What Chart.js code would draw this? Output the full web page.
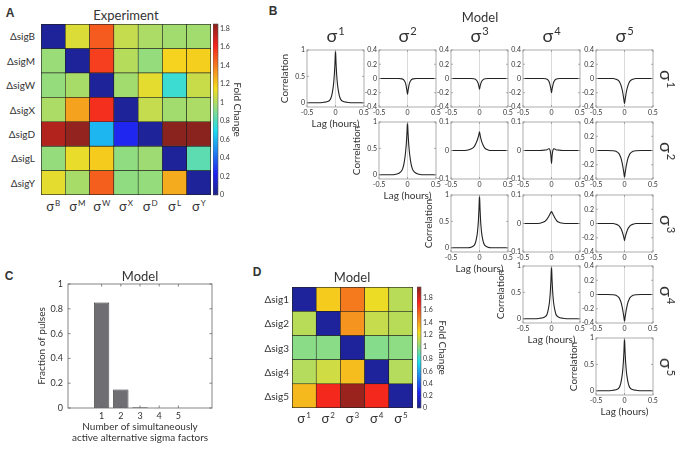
<!DOCTYPE html>
<html>
<head>
<meta charset="utf-8">
<script src="https://cdn.jsdelivr.net/npm/chart.js@4.4.1/dist/chart.umd.min.js"></script>
<style>
  body { margin: 0; background: #fff; }
  #fig { position: relative; width: 681px; height: 451px; overflow: hidden; font-family: Lato, sans-serif; color: #333; }
  #fig canvas { position: absolute; }
  .t { position: absolute; white-space: nowrap; line-height: 1; }
  .t sup { font-size: 62%; vertical-align: 0; position: relative; top: -0.6em; margin-left: 1px; }
  .lt { font-family: "Liberation Sans", Arial, sans-serif; font-weight: bold; }
</style>
</head>
<body>
<div id="fig"></div>
<script>
// ---- panel A: experiment fold change (rows = deletions, cols = sigma factors)
const A_ROWS = ['ΔsigB', 'ΔsigM', 'ΔsigW', 'ΔsigX', 'ΔsigD', 'ΔsigL', 'ΔsigY'];
const A_COLS = ['B', 'M', 'W', 'X', 'D', 'L', 'Y'];
const A_SIGB = [0.04, 1.10, 1.48, 1.05, 1.00, 0.98, 0.98];
const A_SIGM = [0.96, 0.04, 1.55, 1.02, 0.95, 1.18, 1.19];
const A_SIGW = [0.95, 0.99, 0.04, 0.98, 1.12, 0.76, 1.06];
const A_SIGX = [1.00, 1.30, 1.59, 0.04, 1.05, 0.98, 1.00];
const A_SIGD = [1.76, 1.83, 0.60, 0.24, 0.04, 1.85, 1.85];
const A_SIGL = [0.95, 1.13, 1.20, 0.94, 0.97, 0.04, 0.83];
const A_SIGY = [1.12, 0.99, 1.47, 0.94, 0.95, 1.28, 0.04];
const A_MAX = 1.85;

// ---- panel D: model fold change
const D_ROWS = ['Δsig1', 'Δsig2', 'Δsig3', 'Δsig4', 'Δsig5'];
const D_COLS = ['1', '2', '3', '4', '5'];
const D_SIG1 = [0.05, 1.28, 1.50, 1.22, 1.10];
const D_SIG2 = [1.10, 0.05, 1.43, 1.13, 1.10];
const D_SIG3 = [0.99, 0.99, 0.05, 0.98, 1.00];
const D_SIG4 = [1.09, 1.15, 1.32, 0.05, 1.09];
const D_SIG5 = [1.33, 1.72, 1.94, 1.72, 0.05];
const D_MAX = 1.98;

const CBAR_TICKS = [0, 0.2, 0.4, 0.6, 0.8, 1, 1.2, 1.4, 1.6, 1.8];

// ---- panel C: number of simultaneously active factors
const C_N = [1, 2, 3, 4, 5];
const C_FRACTION = [0.85, 0.15, 0.006, 0, 0];
const C_YTICKS = [0, 0.2, 0.4, 0.6, 0.8, 1];

// ---- panel B: cross-correlations vs lag (hours)
const LAG = [-0.5, -0.4, -0.3, -0.2, -0.15, -0.1, -0.08, -0.06, -0.04, -0.03, -0.02, -0.01, 0,
             0.01, 0.02, 0.03, 0.04, 0.06, 0.08, 0.1, 0.15, 0.2, 0.3, 0.4, 0.5];
const CORR_11 = [0, 0, 0, 0.01, 0.02, 0.05, 0.09, 0.17, 0.3, 0.4, 0.54, 0.74, 1, 0.74, 0.54, 0.4, 0.3, 0.17, 0.09, 0.05, 0.02, 0.01, 0, 0, 0];
const CORR_22 = [0, 0, 0, 0.01, 0.03, 0.08, 0.13, 0.22, 0.37, 0.47, 0.6, 0.78, 1, 0.78, 0.6, 0.47, 0.37, 0.22, 0.13, 0.08, 0.03, 0.01, 0, 0, 0];
const CORR_33 = [0, 0, 0, 0, 0.01, 0.04, 0.07, 0.14, 0.26, 0.36, 0.5, 0.72, 1, 0.72, 0.5, 0.36, 0.26, 0.14, 0.07, 0.04, 0.01, 0, 0, 0, 0];
const CORR_44 = [0, 0, 0, 0.01, 0.02, 0.05, 0.08, 0.16, 0.28, 0.38, 0.52, 0.73, 1, 0.73, 0.52, 0.38, 0.28, 0.16, 0.08, 0.05, 0.02, 0.01, 0, 0, 0];
const CORR_55 = [0, 0, 0, 0.01, 0.02, 0.05, 0.09, 0.17, 0.3, 0.4, 0.54, 0.74, 1, 0.74, 0.54, 0.4, 0.3, 0.17, 0.09, 0.05, 0.02, 0.01, 0, 0, 0];
const CORR_12 = [0, 0, 0, 0, 0, -0.005, -0.01, -0.025, -0.055, -0.08, -0.12, -0.17, -0.22, -0.17, -0.12, -0.08, -0.055, -0.025, -0.01, -0.005, 0, 0, 0, 0, 0];
const CORR_13 = [0, 0, 0, 0, 0, -0.004, -0.008, -0.018, -0.038, -0.055, -0.08, -0.11, -0.15, -0.11, -0.08, -0.055, -0.038, -0.018, -0.008, -0.004, 0, 0, 0, 0, 0];
const CORR_14 = [0, 0, 0, 0, 0, -0.004, -0.01, -0.022, -0.05, -0.075, -0.11, -0.15, -0.2, -0.15, -0.11, -0.075, -0.05, -0.022, -0.01, -0.004, 0, 0, 0, 0, 0];
const CORR_15 = [0, 0, 0, 0, -0.01, -0.035, -0.06, -0.1, -0.16, -0.2, -0.25, -0.3, -0.35, -0.3, -0.25, -0.2, -0.16, -0.1, -0.06, -0.035, -0.01, 0, 0, 0, 0];
const CORR_23 = [0, 0, 0, 0.002, 0.005, 0.012, 0.018, 0.026, 0.036, 0.042, 0.049, 0.057, 0.066, 0.055, 0.045, 0.037, 0.03, 0.02, 0.012, 0.007, 0.002, 0, 0, 0, 0];
const CORR_24 = [0, 0, 0, 0, 0.001, 0.002, 0.003, 0.005, 0.006, 0.004, -0.004, -0.02, -0.045, -0.02, -0.004, 0.004, 0.006, 0.005, 0.003, 0.002, 0.001, 0, 0, 0, 0];
const CORR_25 = [0, 0, 0, -0.003, -0.012, -0.04, -0.07, -0.11, -0.18, -0.22, -0.27, -0.32, -0.38, -0.32, -0.27, -0.22, -0.18, -0.11, -0.07, -0.04, -0.012, -0.003, 0, 0, 0];
const CORR_34 = [0, 0, 0, 0.001, 0.004, 0.01, 0.015, 0.021, 0.028, 0.032, 0.036, 0.039, 0.042, 0.039, 0.035, 0.031, 0.027, 0.019, 0.013, 0.008, 0.003, 0.001, 0, 0, 0];
const CORR_35 = [0, 0, 0, 0, -0.01, -0.03, -0.05, -0.075, -0.115, -0.14, -0.17, -0.2, -0.24, -0.2, -0.17, -0.14, -0.115, -0.075, -0.05, -0.03, -0.01, 0, 0, 0, 0];
const CORR_45 = [0, 0, 0, -0.003, -0.012, -0.04, -0.07, -0.11, -0.18, -0.22, -0.27, -0.32, -0.38, -0.32, -0.27, -0.22, -0.18, -0.11, -0.07, -0.04, -0.012, -0.003, 0, 0, 0];
const B_XTICKS = [-0.5, 0, 0.5];
const B_YTICKS_AUTO = [0, 0.5, 1];
const B_YTICKS_WIDE = [-0.4, -0.2, 0, 0.2, 0.4];
const B_YTICKS_NARROW = [-0.1, 0, 0.1];

Chart.defaults.font.family = 'Lato, sans-serif';
Chart.defaults.color = '#333';

const fig = document.getElementById('fig');

// jet, toned down a bit like the printed figure
function jet(t) {
  t = Math.max(0, Math.min(1, t));
  const f = x => Math.max(0, Math.min(1, x));
  const r = f(Math.min(4 * t - 1.5, -4 * t + 4.5));
  const g = f(Math.min(4 * t - 0.5, -4 * t + 3.5));
  const b = f(Math.min(4 * t + 0.5, -4 * t + 2.5));
  return `rgb(${Math.round(30 + r * 215)},${Math.round(35 + g * 185)},${Math.round(30 + b * 210)})`;
}

function text(html, x, y, o = {}) {
  const d = document.createElement('div');
  d.className = 't' + (o.cls ? ' ' + o.cls : '');
  d.innerHTML = html;
  d.style.left = x + 'px';
  d.style.top = y + 'px';
  d.style.fontSize = (o.size || 10) + 'px';
  const ax = o.align === 'right' ? '-100%' : o.align === 'left' ? '0' : '-50%';
  d.style.transform = `translate(${ax},-50%)` + (o.rot ? ` rotate(${o.rot}deg)` : '');
  fig.appendChild(d);
}

// box outline + little inward ticks, matlab style
const framePlugin = {
  id: 'frame',
  afterDatasetsDraw(chart, args, o) {
    if (!o || !o.color) return;
    const { ctx, chartArea: a } = chart;
    ctx.save();
    ctx.strokeStyle = o.color;
    ctx.lineWidth = o.width || 0.8;
    ctx.strokeRect(a.left, a.top, a.right - a.left, a.bottom - a.top);
    if (o.ticks) {
      const L = o.ticks;
      const xs = chart.scales.x, ys = chart.scales.y;
      ctx.beginPath();
      if (xs && xs.options.display !== false) xs.ticks.forEach(t => {
        const p = xs.getPixelForValue(t.value);
        ctx.moveTo(p, a.bottom); ctx.lineTo(p, a.bottom - L);
        ctx.moveTo(p, a.top); ctx.lineTo(p, a.top + L);
      });
      if (ys && ys.options.display !== false) ys.ticks.forEach(t => {
        const p = ys.getPixelForValue(t.value);
        ctx.moveTo(a.left, p); ctx.lineTo(a.left + L, p);
        ctx.moveTo(a.right, p); ctx.lineTo(a.right - L, p);
      });
      ctx.stroke();
    }
    ctx.restore();
  }
};

// puts a chart so that its plot area lands exactly on box
function chartAt(box, m, type, data, scales, frame) {
  const c = document.createElement('canvas');
  const w = box.w + m.l + m.r, h = box.h + m.t + m.b;
  c.width = w; c.height = h;
  c.style.left = (box.x - m.l) + 'px';
  c.style.top = (box.y - m.t) + 'px';
  c.style.width = w + 'px';
  c.style.height = h + 'px';
  fig.appendChild(c);
  const pad = { left: m.l, right: m.r, top: m.t, bottom: m.b };
  for (const k in scales) {
    const s = scales[k];
    if (s.display === false) continue;
    const pos = s.position || (k === 'x' ? 'bottom' : 'left');
    const size = pad[pos];
    pad[pos] = 0;
    s.afterFit = sc => {
      if (sc.isHorizontal()) sc.height = size; else sc.width = size;
      sc.paddingLeft = sc.paddingRight = sc.paddingTop = sc.paddingBottom = 0;
    };
  }
  return new Chart(c, {
    type, data,
    options: {
      responsive: false, animation: false,
      layout: { padding: pad },
      plugins: { legend: { display: false }, tooltip: { enabled: false }, frame: frame || {} },
      scales
    },
    plugins: [framePlugin]
  });
}

const setTicks = list => sc => { sc.ticks = list.map(v => ({ value: v })); };

function heatmap(box, rows, vals, vmax) {
  const datasets = vals.map((row, i) => ({
    label: rows[i],
    data: row.map(() => 1),
    backgroundColor: row.map(v => jet(v / vmax)),
    borderColor: '#1e1e1e', borderWidth: 0.6, borderSkipped: false,
    barPercentage: 1, categoryPercentage: 1
  }));
  chartAt(box, { l: 0, r: 0, t: 0, b: 0 }, 'bar', { labels: vals[0].map((_, j) => j), datasets }, {
    x: { display: false, stacked: true },
    y: { display: false, stacked: true, reverse: true, min: 0, max: rows.length }
  }, { color: '#222', width: 1 });
}

function colorbar(box, vmax, rightMargin) {
  chartAt(box, { l: 0, r: rightMargin, t: 6, b: 6 }, 'bar', {
    labels: [''],
    datasets: [{
      data: [vmax], barPercentage: 1, categoryPercentage: 1, borderWidth: 0,
      backgroundColor: ctx => {
        const ch = ctx.chart;
        if (!ch.chartArea) return '#888';
        const y = ch.scales.y;
        const g = ch.ctx.createLinearGradient(0, y.getPixelForValue(0), 0, y.getPixelForValue(vmax));
        for (let i = 0; i <= 8; i++) g.addColorStop(i / 8, jet(i / 8));
        return g;
      }
    }]
  }, {
    x: { display: false },
    y: {
      position: 'right', min: 0, max: vmax, afterBuildTicks: setTicks(CBAR_TICKS),
      ticks: { font: { size: 7 }, padding: 2, callback: v => String(v) },
      grid: { display: false, drawTicks: false }, border: { display: false },
      title: { display: true, text: 'Fold Change', font: { size: 10 }, padding: 0 }
    }
  }, { color: '#555', width: 0.6 });
}

// ---------------- panel A
const A_BOX = { x: 41, y: 24, w: 170, h: 171 };
heatmap(A_BOX, A_ROWS, [A_SIGB, A_SIGM, A_SIGW, A_SIGX, A_SIGD, A_SIGL, A_SIGY], A_MAX);
colorbar({ x: 213, y: 24, w: 5, h: 171 }, A_MAX, 25);

// ---------------- panel D
const D_BOX = { x: 292, y: 287, w: 121, h: 121 };
heatmap(D_BOX, D_ROWS, [D_SIG1, D_SIG2, D_SIG3, D_SIG4, D_SIG5], D_MAX);
colorbar({ x: 417, y: 287, w: 4, h: 121 }, D_MAX, 27);

// ---------------- panel C
chartAt({ x: 68, y: 284, w: 144, h: 124 }, { l: 32, r: 10, t: 8, b: 35 }, 'bar', {
  datasets: [{
    data: C_N.map((n, i) => ({ x: n, y: C_FRACTION[i] })),
    backgroundColor: '#6e6e73', borderColor: '#2a2a2a', borderWidth: 0.8,
    barPercentage: 0.8, categoryPercentage: 1
  }]
}, {
  x: {
    type: 'linear', min: 0, max: 6, afterBuildTicks: setTicks(C_N),
    ticks: { font: { size: 9 }, padding: 3, callback: v => String(v) },
    grid: { display: false, drawTicks: false }, border: { display: false },
    title: { display: true, text: ['Number of simultaneously', 'active alternative sigma factors'], font: { size: 10, lineHeight: 1.05 }, padding: 0 }
  },
  y: {
    min: 0, max: 1, afterBuildTicks: setTicks(C_YTICKS),
    ticks: { font: { size: 9 }, padding: 5, callback: v => String(v) },
    grid: { display: false, drawTicks: false }, border: { display: false },
    title: { display: true, text: 'Fraction of pulses', font: { size: 10 }, padding: 0 }
  }
}, { color: '#666', width: 0.8, ticks: 2.5 });

// ---------------- panel B
const B_X = [307, 379, 451, 523, 596];
const B_Y = [50, 122, 195, 266, 338];
const B_SIZE = 57;
const B_PANELS = [
  [0, 0, CORR_11, B_YTICKS_AUTO], [0, 1, CORR_12, B_YTICKS_WIDE], [0, 2, CORR_13, B_YTICKS_WIDE], [0, 3, CORR_14, B_YTICKS_WIDE], [0, 4, CORR_15, B_YTICKS_WIDE],
  [1, 1, CORR_22, B_YTICKS_AUTO], [1, 2, CORR_23, B_YTICKS_NARROW], [1, 3, CORR_24, B_YTICKS_NARROW], [1, 4, CORR_25, B_YTICKS_WIDE],
  [2, 2, CORR_33, B_YTICKS_AUTO], [2, 3, CORR_34, B_YTICKS_NARROW], [2, 4, CORR_35, B_YTICKS_WIDE],
  [3, 3, CORR_44, B_YTICKS_AUTO], [3, 4, CORR_45, B_YTICKS_WIDE],
  [4, 4, CORR_55, B_YTICKS_AUTO]
];

B_PANELS.forEach(([r, c, vals, yt]) => {
  const diag = r === c;
  const ymin = diag ? -0.08 : yt[0];
  const ymax = yt[yt.length - 1];
  chartAt({ x: B_X[c], y: B_Y[r], w: B_SIZE, h: B_SIZE },
    diag ? { l: 28, r: 8, t: 6, b: 23 } : { l: 16, r: 8, t: 6, b: 12 }, 'line', {
      datasets: [{
        data: LAG.map((x, i) => ({ x, y: vals[i] })),
        borderColor: '#222', borderWidth: 1.1, pointRadius: 0,
        cubicInterpolationMode: 'monotone'
      }]
    }, {
      x: {
        type: 'linear', min: -0.5, max: 0.5, afterBuildTicks: setTicks(B_XTICKS),
        ticks: { font: { size: 7 }, padding: 2, callback: v => String(v), maxRotation: 0 },
        grid: { drawTicks: false, lineWidth: 0.8, color: ctx => (ctx.tick && ctx.tick.value === 0) ? '#d0d0d0' : 'rgba(0,0,0,0)' },
        border: { display: false },
        title: { display: diag, text: 'Lag (hours)', font: { size: 10 }, padding: 0 }
      },
      y: {
        min: ymin, max: ymax, afterBuildTicks: setTicks(yt),
        ticks: { font: { size: 7 }, padding: 2, callback: v => String(v) },
        grid: { display: false, drawTicks: false }, border: { display: false },
        title: { display: diag, text: 'Correlation', font: { size: 10 }, padding: 0 }
      }
    }, { color: '#999', width: 0.8, ticks: 2 });
});

// ---------------- text
text('A', 10, 13, { size: 12, cls: 'lt' });
text('B', 273, 11, { size: 12, cls: 'lt' });
text('C', 9, 276, { size: 12, cls: 'lt' });
text('D', 257, 272, { size: 12, cls: 'lt' });

text('Experiment', 126, 15, { size: 13 });
text('Model', 480, 17, { size: 13 });
text('Model', 140, 276, { size: 13 });
text('Model', 352, 277, { size: 13 });

const aCell = A_BOX.w / A_COLS.length, aRow = A_BOX.h / A_ROWS.length;
A_ROWS.forEach((s, i) => text(s, 35, A_BOX.y + aRow * (i + 0.5), { size: 10, align: 'right' }));
A_COLS.forEach((s, j) => text('σ<sup>' + s + '</sup>', A_BOX.x + aCell * (j + 0.5), 206, { size: 13 }));

const dCell = D_BOX.w / D_COLS.length;
D_ROWS.forEach((s, i) => text(s, 289, D_BOX.y + dCell * (i + 0.5), { size: 10, align: 'right' }));
D_COLS.forEach((s, j) => text('σ<sup>' + s + '</sup>', D_BOX.x + dCell * (j + 0.5), 418, { size: 13 }));

D_COLS.forEach((s, j) => text('σ<sup>' + s + '</sup>', B_X[j] + B_SIZE / 2, 35, { size: 18 }));
D_COLS.forEach((s, i) => text('σ<sup>' + s + '</sup>', 667, B_Y[i] + B_SIZE / 2, { size: 18, rot: 90 }));
</script>
</body>
</html>
